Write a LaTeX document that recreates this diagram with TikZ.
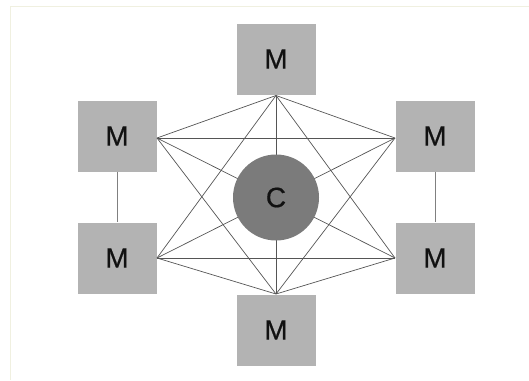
\documentclass[tikz,border=0pt]{standalone}
\usepackage{fontspec}
\setmainfont{Liberation Sans}
\newfontfamily\lblfont{Liberation Sans}[FakeBold=0.6]
\definecolor{boxgray}{HTML}{B3B3B3}
\definecolor{circgray}{HTML}{7B7B7B}
\definecolor{linegray}{HTML}{555555}
\definecolor{framecol}{HTML}{F0F0E0}
\definecolor{txt}{HTML}{111111}
\begin{document}
\begin{tikzpicture}[x=1pt,y=-1pt,
  mbox/.style={fill=boxgray, draw=none, minimum width=79pt, minimum height=71pt, inner sep=0pt, text=txt, font=\lblfont\fontsize{28}{32}\selectfont},
  cnode/.style={circle, fill=circgray, draw=none, minimum size=86pt, inner sep=0pt, text=txt, font=\lblfont\fontsize{28}{32}\selectfont},
  link/.style={draw=linegray, line width=0.7pt},
  vlink/.style={draw=gray, line width=0.8pt}]
\useasboundingbox (0,0) rectangle (529,380);
\draw[framecol, line width=0.8pt] (10,380) -- (10,6.5) -- (529,6.5);
% boxes
\node[mbox] (T) at (276,59) {M};
\node[mbox] (UL) at (117,136) {M};
\node[mbox] (LL) at (117,258) {M};
\node[mbox] (UR) at (435,136) {M};
\node[mbox] (LR) at (435,258) {M};
\node[mbox] (B) at (276,330) {M};
% anchor points
\coordinate (t) at (276,95.5);
\coordinate (ul) at (157,138);
\coordinate (ll) at (157,258);
\coordinate (ur) at (395,138);
\coordinate (lr) at (395,258);
\coordinate (b) at (276,294);
% connections
\foreach \a/\c in {t/ul,t/ur,t/ll,t/lr,t/b,ul/ur,ul/lr,ul/b,ur/ll,ur/b,ll/lr,ll/b,lr/b}
  \draw[link] (\a) -- (\c);
\draw[vlink] (UL.south) -- (LL.north);
\draw[vlink] (UR.south) -- (LR.north);
\node[cnode] (C) at (276,197.5) {C};
\end{tikzpicture}
\end{document}
